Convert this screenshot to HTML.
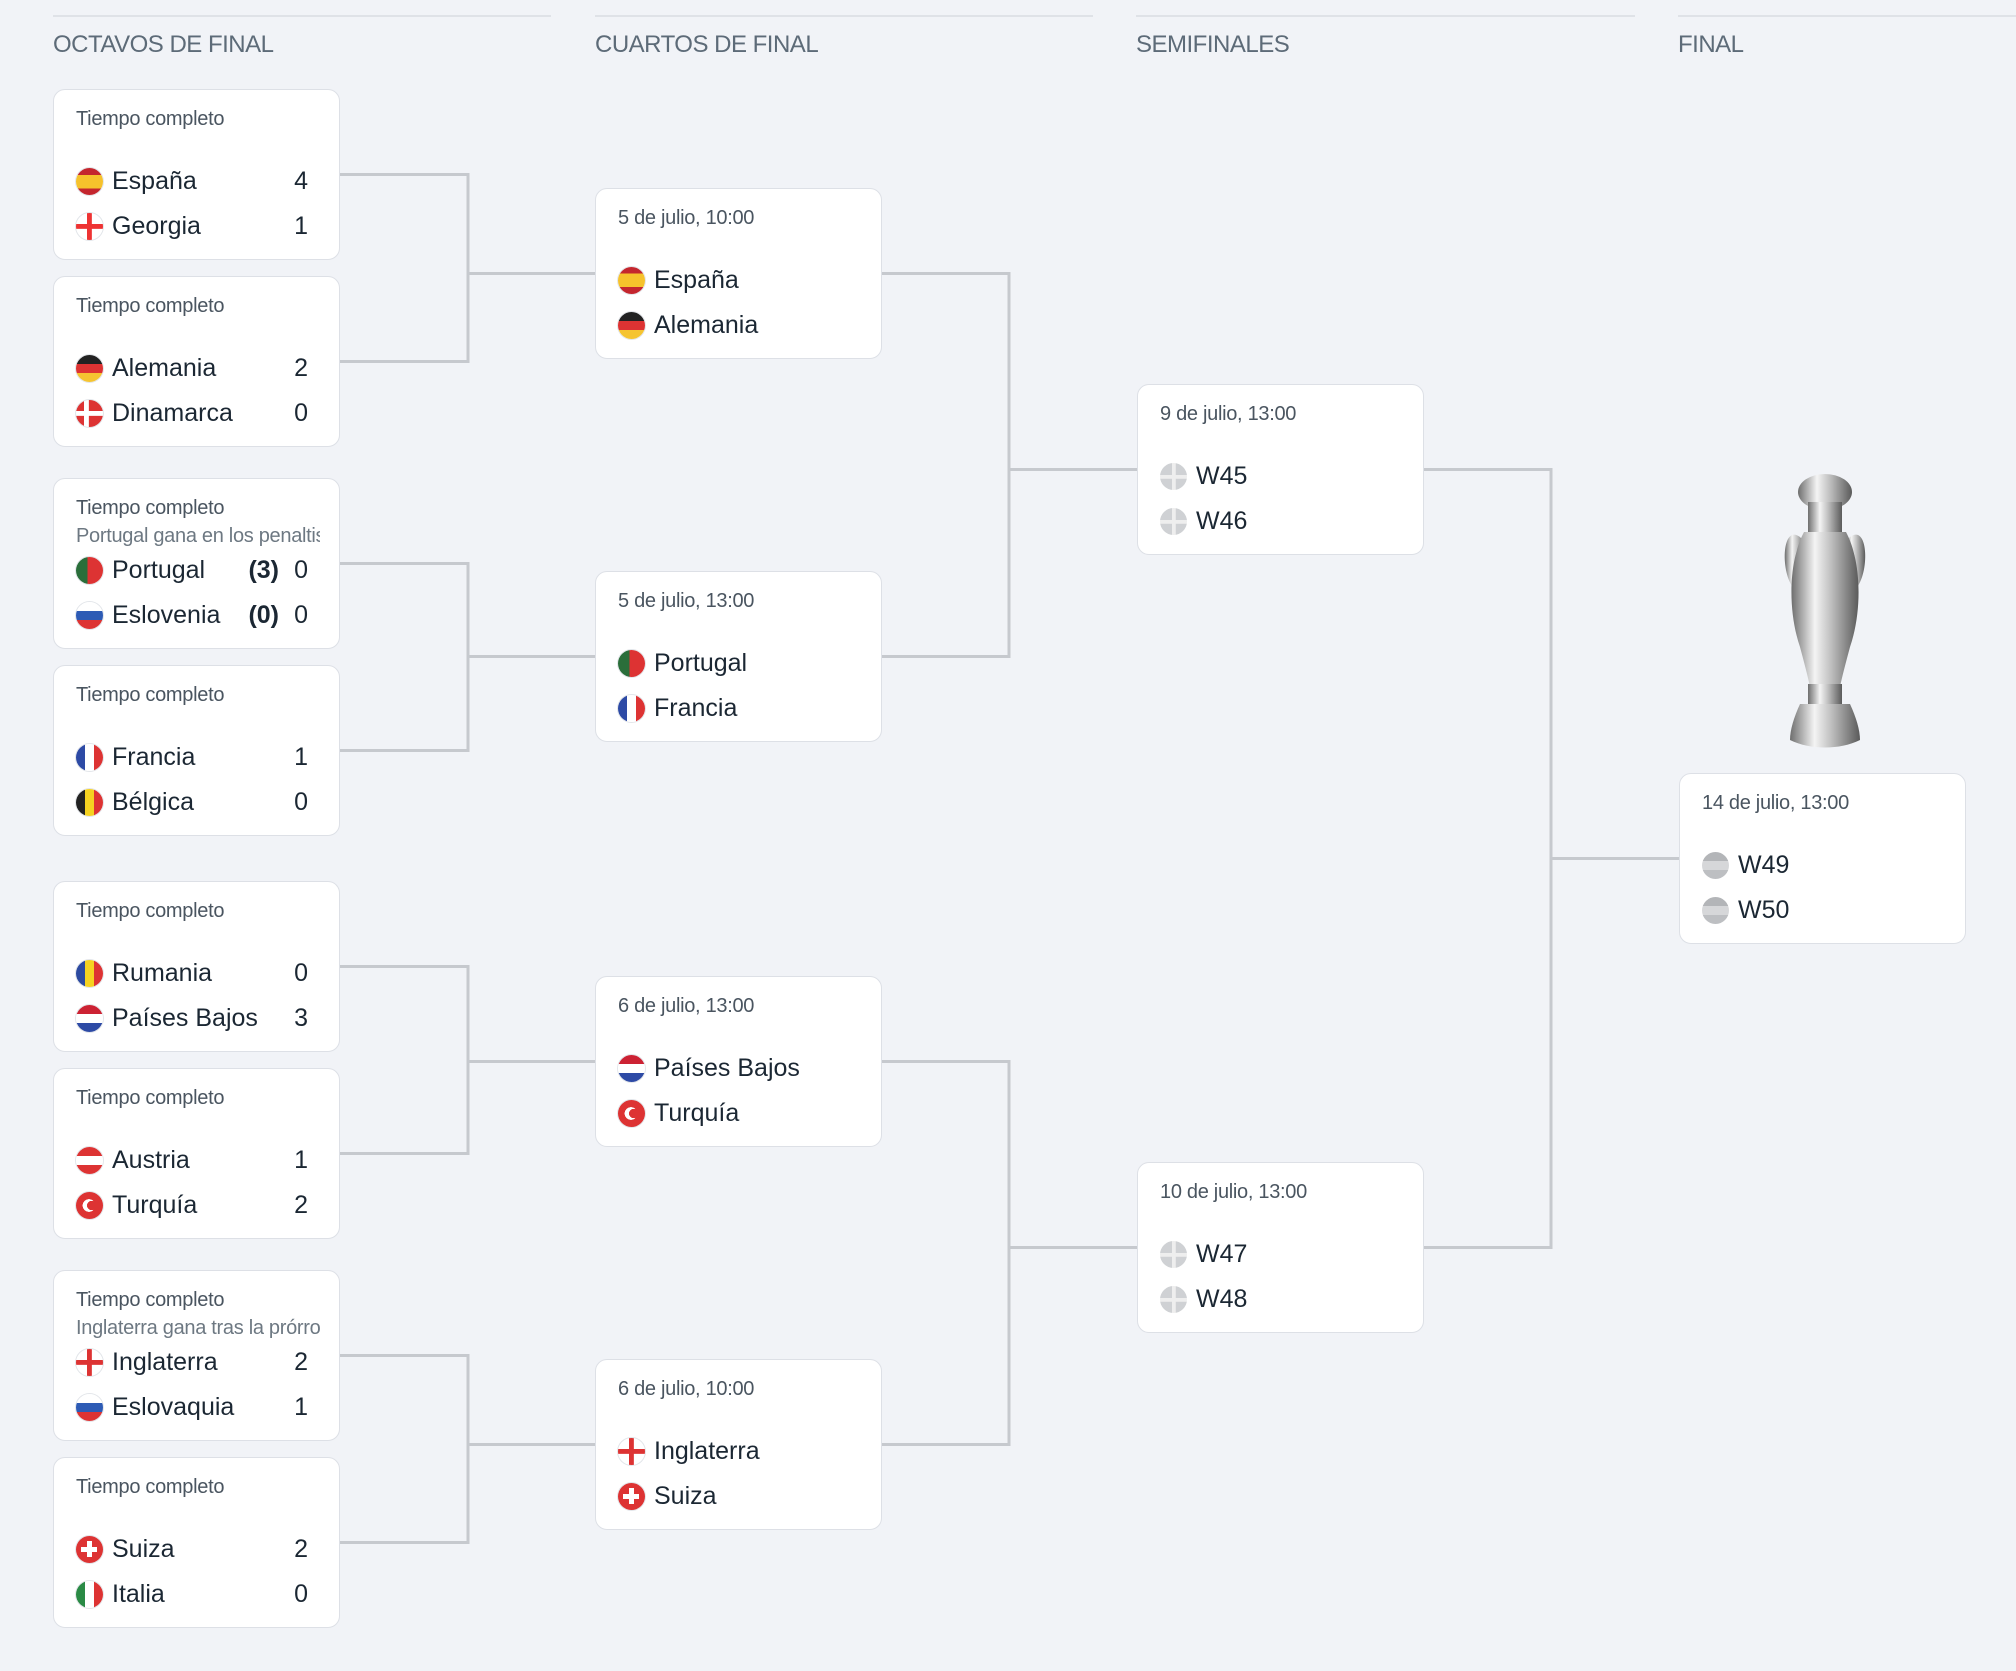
<!DOCTYPE html>
<html><head><meta charset="utf-8"><style>
body{margin:0;width:2016px;height:1671px;background:#f1f3f7;font-family:"Liberation Sans",sans-serif;position:relative;overflow:hidden}
.hl{position:absolute;top:15px;height:2px;background:#dfe2e7}
.h{position:absolute;top:31px;font-size:24px;color:#5d6b78;letter-spacing:-0.5px}
.c{position:absolute;width:285px;height:169px;background:#fff;border:1px solid #dde0e6;border-radius:12px}
.l{position:absolute;left:22px;top:18px;font-size:20px;color:#4a5560;letter-spacing:-0.3px}
.l2{position:absolute;left:22px;top:46px;font-size:20px;color:#6d7882;letter-spacing:-0.3px;white-space:nowrap;width:244px;overflow:hidden}
.r{position:absolute;left:22px;height:30px;width:232px}
.r1{top:76px}.r2{top:121px}
.f{position:absolute;left:0;top:2px;width:27px;height:27px;border-radius:50%;box-shadow:0 0 0 1px #e3e6ea}
.n{position:absolute;left:36px;top:0;font-size:25px;color:#1b2733;line-height:30px}
.s{position:absolute;right:0;top:0;font-size:25px;color:#1b2733;line-height:30px}
.p{position:absolute;right:29px;top:0;font-size:25px;color:#1b2733;line-height:30px;font-weight:bold}
.es{background:linear-gradient(#c4262e 25%,#f6c22c 25% 75%,#c4262e 75%)}
.ge{background:linear-gradient(#e33 0 0) center/100% 18% no-repeat,linear-gradient(#e33 0 0) center/18% 100% no-repeat,#fff}
.de{background:linear-gradient(#222 33%,#dd3333 33% 66%,#f5c431 66%)}
.dk{background:linear-gradient(#fff 0 0) 0 50%/100% 18% no-repeat,linear-gradient(#fff 0 0) 35% 0/18% 100% no-repeat,#dd3333}
.pt{background:linear-gradient(90deg,#2a6e3a 42%,#dd3333 42%)}
.si{background:linear-gradient(#fff 33%,#2d5bb5 33% 66%,#dd3333 66%)}
.fr{background:linear-gradient(90deg,#2d4aa5 33%,#fff 33% 66%,#dd3333 66%)}
.be{background:linear-gradient(90deg,#222 33%,#f5d221 33% 66%,#dd3333 66%)}
.ro{background:linear-gradient(90deg,#2c4aa0 33%,#f5d221 33% 66%,#dd3333 66%)}
.nl{background:linear-gradient(#cc2233 33%,#fff 33% 66%,#2d4aa5 66%)}
.at{background:linear-gradient(#dd3333 33%,#fff 33% 66%,#dd3333 66%)}
.tr{background:radial-gradient(circle at 58% 50%,#dd3333 22%,transparent 23%),radial-gradient(circle at 48% 50%,#fff 32%,transparent 33%),#dd3333}
.en{background:linear-gradient(#dd3333 0 0) center/100% 18% no-repeat,linear-gradient(#dd3333 0 0) center/18% 100% no-repeat,#fff}
.sk{background:linear-gradient(#fff 33%,#2d5bb5 33% 66%,#dd3333 66%)}
.ch{background:linear-gradient(#fff 0 0) center/60% 20% no-repeat,linear-gradient(#fff 0 0) center/20% 60% no-repeat,#dd3333}
.it{background:linear-gradient(90deg,#2a8a45 33%,#fff 33% 66%,#dd3333 66%)}
.w{background:linear-gradient(#eee 0 0) center/100% 14% no-repeat,linear-gradient(#eee 0 0) center/14% 100% no-repeat,#cfd1d4;box-shadow:none}
.w2{background:linear-gradient(#b3b5b8 33%,#d6d7d9 33% 66%,#bdbfc2 66%);box-shadow:none}
</style></head><body>
<div class="hl" style="left:53px;width:498px"></div>
<div class="hl" style="left:595px;width:498px"></div>
<div class="hl" style="left:1136px;width:499px"></div>
<div class="hl" style="left:1678px;width:338px"></div>
<div class="h" style="left:53px">OCTAVOS DE FINAL</div>
<div class="h" style="left:595px">CUARTOS DE FINAL</div>
<div class="h" style="left:1136px">SEMIFINALES</div>
<div class="h" style="left:1678px">FINAL</div>

<svg width="2016" height="1671" style="position:absolute;left:0;top:0" fill="none" stroke="#c6c9ce" stroke-width="3">
<path d="M340 174.5H468V361.5H340M468 273.5H595"/>
<path d="M340 563.5H468V750.5H340M468 656.5H595"/>
<path d="M340 966.5H468V1153.5H340M468 1061.5H595"/>
<path d="M340 1355.5H468V1542.5H340M468 1444.5H595"/>
<path d="M881 273.5H1009V656.5H881M1009 469.5H1137"/>
<path d="M881 1061.5H1009V1444.5H881M1009 1247.5H1137"/>
<path d="M1423 469.5H1551V1247.5H1423M1551 858.5H1679"/>
</svg>

<div class="c" style="left:53px;top:89px"><div class="l">Tiempo completo</div>
<div class="r r1"><div class="f es"></div><div class="n">España</div><div class="s">4</div></div>
<div class="r r2"><div class="f ge"></div><div class="n">Georgia</div><div class="s">1</div></div></div>
<div class="c" style="left:53px;top:276px"><div class="l">Tiempo completo</div>
<div class="r r1"><div class="f de"></div><div class="n">Alemania</div><div class="s">2</div></div>
<div class="r r2"><div class="f dk"></div><div class="n">Dinamarca</div><div class="s">0</div></div></div>
<div class="c" style="left:53px;top:478px"><div class="l">Tiempo completo</div><div class="l2">Portugal gana en los penaltis</div>
<div class="r r1"><div class="f pt"></div><div class="n">Portugal</div><div class="p">(3)</div><div class="s">0</div></div>
<div class="r r2"><div class="f si"></div><div class="n">Eslovenia</div><div class="p">(0)</div><div class="s">0</div></div></div>
<div class="c" style="left:53px;top:665px"><div class="l">Tiempo completo</div>
<div class="r r1"><div class="f fr"></div><div class="n">Francia</div><div class="s">1</div></div>
<div class="r r2"><div class="f be"></div><div class="n">Bélgica</div><div class="s">0</div></div></div>
<div class="c" style="left:53px;top:881px"><div class="l">Tiempo completo</div>
<div class="r r1"><div class="f ro"></div><div class="n">Rumania</div><div class="s">0</div></div>
<div class="r r2"><div class="f nl"></div><div class="n">Países Bajos</div><div class="s">3</div></div></div>
<div class="c" style="left:53px;top:1068px"><div class="l">Tiempo completo</div>
<div class="r r1"><div class="f at"></div><div class="n">Austria</div><div class="s">1</div></div>
<div class="r r2"><div class="f tr"></div><div class="n">Turquía</div><div class="s">2</div></div></div>
<div class="c" style="left:53px;top:1270px"><div class="l">Tiempo completo</div><div class="l2">Inglaterra gana tras la prórroga</div>
<div class="r r1"><div class="f en"></div><div class="n">Inglaterra</div><div class="s">2</div></div>
<div class="r r2"><div class="f sk"></div><div class="n">Eslovaquia</div><div class="s">1</div></div></div>
<div class="c" style="left:53px;top:1457px"><div class="l">Tiempo completo</div>
<div class="r r1"><div class="f ch"></div><div class="n">Suiza</div><div class="s">2</div></div>
<div class="r r2"><div class="f it"></div><div class="n">Italia</div><div class="s">0</div></div></div>

<div class="c" style="left:595px;top:188px"><div class="l">5 de julio, 10:00</div>
<div class="r r1"><div class="f es"></div><div class="n">España</div></div>
<div class="r r2"><div class="f de"></div><div class="n">Alemania</div></div></div>
<div class="c" style="left:595px;top:571px"><div class="l">5 de julio, 13:00</div>
<div class="r r1"><div class="f pt"></div><div class="n">Portugal</div></div>
<div class="r r2"><div class="f fr"></div><div class="n">Francia</div></div></div>
<div class="c" style="left:595px;top:976px"><div class="l">6 de julio, 13:00</div>
<div class="r r1"><div class="f nl"></div><div class="n">Países Bajos</div></div>
<div class="r r2"><div class="f tr"></div><div class="n">Turquía</div></div></div>
<div class="c" style="left:595px;top:1359px"><div class="l">6 de julio, 10:00</div>
<div class="r r1"><div class="f en"></div><div class="n">Inglaterra</div></div>
<div class="r r2"><div class="f ch"></div><div class="n">Suiza</div></div></div>

<div class="c" style="left:1137px;top:384px"><div class="l">9 de julio, 13:00</div>
<div class="r r1"><div class="f w"></div><div class="n">W45</div></div>
<div class="r r2"><div class="f w"></div><div class="n">W46</div></div></div>
<div class="c" style="left:1137px;top:1162px"><div class="l">10 de julio, 13:00</div>
<div class="r r1"><div class="f w"></div><div class="n">W47</div></div>
<div class="r r2"><div class="f w"></div><div class="n">W48</div></div></div>

<svg width="110" height="280" style="position:absolute;left:1770px;top:472px" viewBox="0 0 110 280">
<defs><linearGradient id="g" x1="0" x2="1"><stop offset="0" stop-color="#6e6e6e"/><stop offset=".35" stop-color="#f4f4f4"/><stop offset=".6" stop-color="#bdbdbd"/><stop offset="1" stop-color="#5a5a5a"/></linearGradient></defs>
<g fill="url(#g)" stroke="none">
<ellipse cx="55" cy="20" rx="27" ry="18"/>
<rect x="38" y="30" width="34" height="30"/>
<path d="M30 65C10 50 10 110 28 120L33 112C22 100 22 70 36 72Z"/>
<path d="M80 65C100 50 100 110 82 120L77 112C88 100 88 70 74 72Z"/>
<path d="M34 60H76C92 90 92 140 80 175C76 190 72 205 70 215H40C38 205 34 190 30 175C18 140 18 90 34 60Z"/>
<rect x="38" y="212" width="34" height="20"/>
<path d="M30 232H80C86 245 90 258 90 268C70 278 40 278 20 268C20 258 24 245 30 232Z"/>
</g></svg>
<div class="c" style="left:1679px;top:773px"><div class="l">14 de julio, 13:00</div>
<div class="r r1"><div class="f w2"></div><div class="n">W49</div></div>
<div class="r r2"><div class="f w2"></div><div class="n">W50</div></div></div>
</body></html>
